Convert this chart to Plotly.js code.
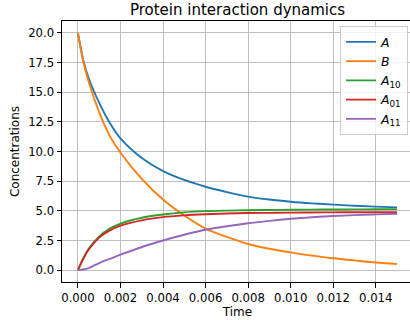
<!DOCTYPE html>
<html>
<head>
<meta charset="utf-8">
<script src="https://cdn.plot.ly/plotly-3.0.1.min.js"></script>
<style>
html,body{margin:0;padding:0;overflow:hidden;background:#fff;}
#chart{width:416px;height:320px;}
</style>
</head>
<body>
<div id="chart"></div>
<script>
const time = [0, 0.00025, 0.0005, 0.001, 0.0015, 0.002, 0.003, 0.004, 0.005, 0.006, 0.007, 0.008, 0.009, 0.010, 0.011, 0.012, 0.013, 0.014, 0.015];
const seriesA   = [20, 17.7, 16.2, 14.1, 12.4, 11.1, 9.45, 8.35, 7.6, 7.03, 6.58, 6.2, 5.95, 5.77, 5.63, 5.52, 5.43, 5.35, 5.29];
const seriesB   = [20, 17.6, 15.9, 13.3, 11.3, 9.9, 7.7, 5.95, 4.6, 3.5, 2.8, 2.2, 1.8, 1.5, 1.22, 1.0, 0.82, 0.65, 0.52];
const seriesA10 = [0, 1.0, 1.8, 2.85, 3.5, 3.92, 4.42, 4.69, 4.87, 4.97, 5.02, 5.05, 5.07, 5.09, 5.1, 5.11, 5.12, 5.13, 5.14];
const seriesA01 = [0, 0.95, 1.72, 2.75, 3.35, 3.75, 4.2, 4.47, 4.62, 4.71, 4.77, 4.81, 4.83, 4.85, 4.86, 4.87, 4.88, 4.88, 4.89];
const seriesA11 = [0, 0.05, 0.17, 0.6, 0.95, 1.3, 1.95, 2.5, 2.98, 3.4, 3.7, 3.95, 4.15, 4.33, 4.46, 4.56, 4.64, 4.7, 4.75];
const names = ['<i>A</i>', '<i>B</i>', '<i>A</i><sub>10</sub>', '<i>A</i><sub>01</sub>', '<i>A</i><sub>11</sub>'];
const colors = ['#1f77b4', '#ff7f0e', '#2ca02c', '#d62728', '#9467bd'];
const allSeries = [seriesA, seriesB, seriesA10, seriesA01, seriesA11];

const traces = allSeries.map((ys, i) => ({
  x: time, y: ys, name: names[i], type: 'scatter', mode: 'lines',
  line: {color: colors[i], width: 1.9, shape: 'spline', smoothing: 1}
}));

const axisCommon = {
  showline: true, mirror: true, linecolor: '#000', linewidth: 1,
  ticks: 'outside', ticklen: 4.5, tickwidth: 1, tickcolor: '#000',
  showgrid: true, gridcolor: '#b0b0b0', gridwidth: 0.8, zeroline: false,
  tickfont: {size: 11.7, color: '#000'}
};

const layout = {
  width: 416, height: 320,
  margin: {l: 62, r: 3, t: 21, b: 38},
  paper_bgcolor: '#fff', plot_bgcolor: '#fff',
  font: {family: 'DejaVu Sans', color: '#000'},
  title: {text: 'Protein interaction dynamics', font: {size: 15, color: '#000'},
          x: 0.5, xref: 'paper', xanchor: 'center', y: 0.97, yref: 'container', yanchor: 'middle'},
  xaxis: Object.assign({}, axisCommon, {
    range: [-0.00075, 0.01575], dtick: 0.002, tick0: 0, tickformat: '.3f',
    title: {text: 'Time', font: {size: 12}, standoff: 3}
  }),
  yaxis: Object.assign({}, axisCommon, {
    range: [-1, 21], dtick: 2.5, tick0: 0, tickformat: '.1f',
    title: {text: 'Concentrations', font: {size: 12}, standoff: 5}
  }),
  showlegend: true,
  legend: {x: 0.792, y: 0.98, xanchor: 'left', yanchor: 'top',
           bgcolor: 'rgba(255,255,255,0.8)', bordercolor: '#cccccc', borderwidth: 1,
           font: {size: 12.5, color: '#000'}, tracegroupgap: 0}
};

Plotly.newPlot('chart', traces, layout, {displayModeBar: false, staticPlot: true});
</script>
</body>
</html>
